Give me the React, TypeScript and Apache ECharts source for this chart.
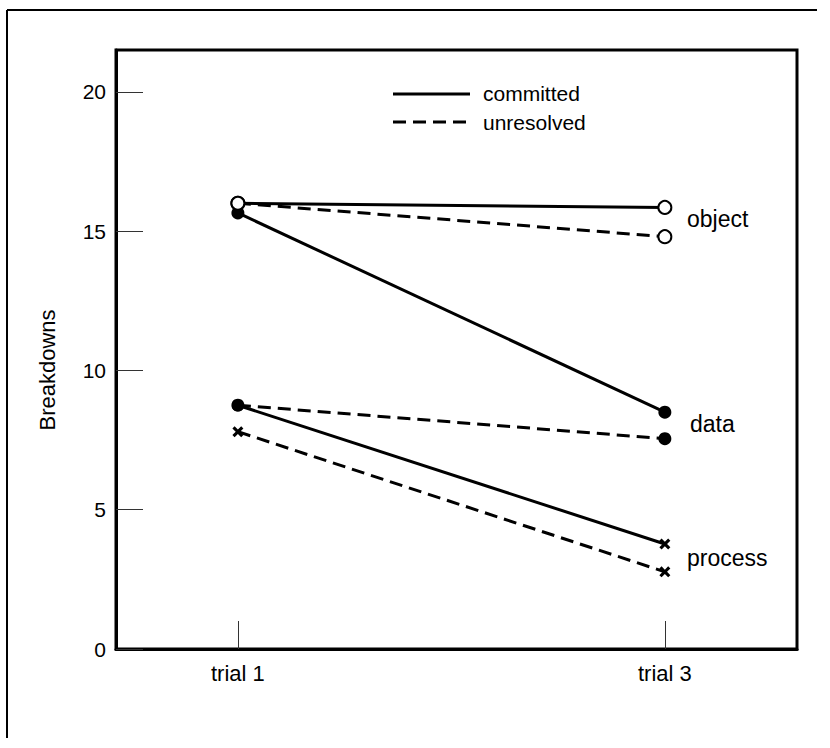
import React, { useEffect, useRef } from "react";
import * as echarts from "echarts";

const trialLabels = ["trial 1", "trial 3"];
const trialPositions = [1, 3];
const yTicks = [0, 5, 10, 15, 20];

const objectCommitted = [16.0, 15.85];
const objectUnresolved = [16.0, 14.8];
const dataCommitted = [15.65, 8.5];
const dataUnresolved = [8.75, 7.55];
const processCommitted = [8.75, 3.77];
const processUnresolved = [7.8, 2.77];

const FONT = "'Liberation Sans', Arial, Helvetica, sans-serif";
const CROSS = "path://M2,0 L5,3 L8,0 L10,2 L7,5 L10,8 L8,10 L5,7 L2,10 L0,8 L3,5 L0,2 Z";

function toPairs(vals: number[]) {
  return vals.map((v, i) => [trialPositions[i], v]);
}

export default function App() {
  const ref = useRef<HTMLDivElement>(null);
  useEffect(() => {
    if (!ref.current) return;
    const chart = echarts.init(ref.current, null, { renderer: "svg" });
    const mk = (
      name: string,
      vals: number[],
      dashed: boolean,
      kind: "open" | "filled" | "cross"
    ) => ({
      name,
      type: "line",
      data: toPairs(vals),
      symbol: kind === "cross" ? CROSS : "circle",
      symbolSize: kind === "cross" ? 11 : 13,
      showSymbol: true,
      lineStyle: {
        color: "#000",
        width: 3,
        type: dashed ? [13, 7] : "solid",
      },
      itemStyle:
        kind === "open"
          ? { color: "#fff", borderColor: "#000", borderWidth: 2 }
          : { color: "#000", borderWidth: 0 },
      z: kind === "open" ? 4 : 3,
    });
    chart.setOption({
      animation: false,
      backgroundColor: "#fff",
      grid: {
        left: 116,
        top: 50,
        right: 33,
        bottom: 99,
        show: true,
        borderColor: "#000",
        borderWidth: 3,
        backgroundColor: "transparent",
      },
      xAxis: {
        type: "value",
        min: 0.429,
        max: 3.619,
        splitLine: { show: false },
        axisLine: { show: true, lineStyle: { color: "#000", width: 3 } },
        axisTick: {
          show: true,
          inside: true,
          length: 28,
          customValues: trialPositions,
          lineStyle: { color: "#333", width: 1 },
        },
        axisLabel: {
          customValues: trialPositions,
          formatter: (v: number) => {
            const i = trialPositions.indexOf(v);
            return i >= 0 ? trialLabels[i] : "";
          },
          color: "#000",
          fontSize: 22,
          fontFamily: FONT,
          margin: 13,
        },
      },
      yAxis: {
        type: "value",
        min: 0,
        max: 21.5,
        splitLine: { show: false },
        axisLine: { show: true, lineStyle: { color: "#000", width: 3 } },
        axisTick: {
          show: true,
          inside: true,
          length: 27,
          customValues: yTicks,
          lineStyle: { color: "#333", width: 1 },
        },
        axisLabel: {
          customValues: yTicks,
          color: "#000",
          fontSize: 21,
          fontFamily: FONT,
          margin: 10,
        },
      },
      series: [
        mk("data committed", dataCommitted, false, "filled"),
        mk("data unresolved", dataUnresolved, true, "filled"),
        mk("process committed", processCommitted, false, "cross"),
        mk("process unresolved", processUnresolved, true, "cross"),
        mk("object unresolved", objectUnresolved, true, "open"),
        mk("object committed", objectCommitted, false, "open"),
      ],
      graphic: [
        { type: "line", shape: { x1: 7, y1: 10, x2: 817, y2: 10 }, style: { stroke: "#000", lineWidth: 2 } },
        { type: "line", shape: { x1: 7, y1: 10, x2: 7, y2: 738 }, style: { stroke: "#000", lineWidth: 2 } },
        { type: "line", shape: { x1: 393, y1: 94, x2: 470, y2: 94 }, style: { stroke: "#000", lineWidth: 3 } },
        { type: "line", shape: { x1: 393, y1: 122, x2: 470, y2: 122 }, style: { stroke: "#000", lineWidth: 3, lineDash: [13, 7] } },
        { type: "text", x: 483, y: 93, style: { text: "committed", font: `21px ${FONT}`, fill: "#000", textVerticalAlign: "middle" } },
        { type: "text", x: 483, y: 122, style: { text: "unresolved", font: `21px ${FONT}`, fill: "#000", textVerticalAlign: "middle" } },
        { type: "text", x: 687, y: 219, style: { text: "object", font: `23px ${FONT}`, fill: "#000", textVerticalAlign: "middle" } },
        { type: "text", x: 690, y: 424, style: { text: "data", font: `23px ${FONT}`, fill: "#000", textVerticalAlign: "middle" } },
        { type: "text", x: 687, y: 558, style: { text: "process", font: `23px ${FONT}`, fill: "#000", textVerticalAlign: "middle" } },
        {
          type: "text",
          x: 47,
          y: 370,
          rotation: Math.PI / 2,
          style: { text: "Breakdowns", font: `22px ${FONT}`, fill: "#000", textAlign: "center", textVerticalAlign: "middle" },
        },
      ],
    });
    return () => chart.dispose();
  }, []);
  return (
    <div
      ref={ref}
      style={{ position: "fixed", left: 0, top: 0, width: 830, height: 748, background: "#fff" }}
    />
  );
}
